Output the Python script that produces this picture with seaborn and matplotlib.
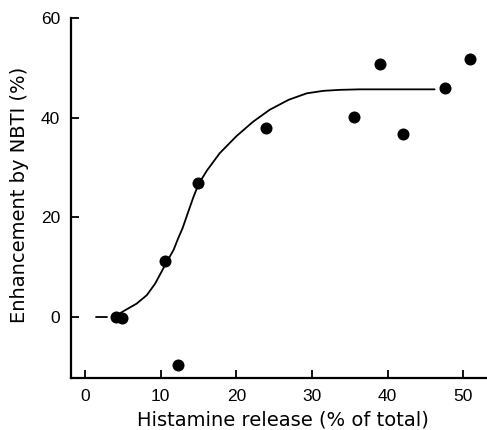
import matplotlib
matplotlib.use("Agg")
import matplotlib.pyplot as plt
import seaborn as sns
import pandas as pd

# Data points
release = [4.1, 4.9, 10.6, 12.3, 14.9, 23.9, 35.5, 39.0, 42.0, 47.6, 50.9]
enhancement = [0.0, -0.2, 11.2, -9.6, 27.0, 38.0, 40.2, 50.8, 36.8, 46.0, 51.8]

# Fitted curve
curve_x = [4.4, 5.3, 6.8, 8.15, 9.25, 10.1, 10.8, 11.7, 12.3, 12.9, 13.65,
           14.3, 15.0, 16.1, 17.8, 20.0, 22.2, 24.4, 26.9, 29.3, 31.5, 33.7,
           36.3, 40.0, 46.2]
curve_y = [0.6, 1.4, 2.7, 4.4, 6.7, 9.1, 11.1, 13.5, 15.8, 17.9, 21.2,
           24.0, 26.7, 29.4, 32.9, 36.3, 39.2, 41.6, 43.6, 44.9, 45.4, 45.6,
           45.7, 45.7, 45.7]
# Dashed extrapolation at the low end
dash_x = [1.5, 2.9]
dash_y = [0.0, 0.0]

xticks = [0, 10, 20, 30, 40, 50]
yticks = [0, 20, 40, 60]

sns.set_theme(style="ticks")
plt.rcParams['font.family'] = ['Liberation Sans', 'DejaVu Sans']
plt.rcParams['text.color'] = 'black'
plt.rcParams['axes.labelcolor'] = 'black'

fig = plt.figure(figsize=(4.87, 4.30), dpi=100)
ax = fig.add_axes([0.146, 0.121, 0.852, 0.837])

df_pts = pd.DataFrame({"x": release, "y": enhancement})
df_curve = pd.DataFrame({"x": curve_x, "y": curve_y})
df_dash = pd.DataFrame({"x": dash_x, "y": dash_y})

sns.lineplot(data=df_curve, x="x", y="y", ax=ax, color="black", lw=1.3,
             sort=False, estimator=None, solid_joinstyle="round",
             solid_capstyle="round")
sns.lineplot(data=df_dash, x="x", y="y", ax=ax, color="black", lw=1.3,
             sort=False, estimator=None)
sns.scatterplot(data=df_pts, x="x", y="y", ax=ax, color="black", s=75,
                edgecolor="black", linewidth=0, zorder=3)

ax.set_xlim(-1.85, 53.0)
ax.set_ylim(-12.2, 60)
ax.set_xticks(xticks)
ax.set_yticks(yticks)
ax.tick_params(direction="in", length=6, width=1.3, labelsize=12.5, colors="black",
               pad=8)
for s in ["top", "right"]:
    ax.spines[s].set_visible(False)
for s in ["left", "bottom"]:
    ax.spines[s].set_linewidth(1.6)
    ax.spines[s].set_color("black")

ax.set_xlabel("Histamine release (% of total)", fontsize=14,
              family=["DejaVu Sans"], color="black")
ax.set_ylabel("Enhancement by NBTI (%)", fontsize=14,
              family=["DejaVu Sans"], color="black")
ax.xaxis.set_label_coords(0.51, -0.089)
ax.yaxis.set_label_coords(-0.101, 0.51)

fig.savefig("out.png", dpi=100)
